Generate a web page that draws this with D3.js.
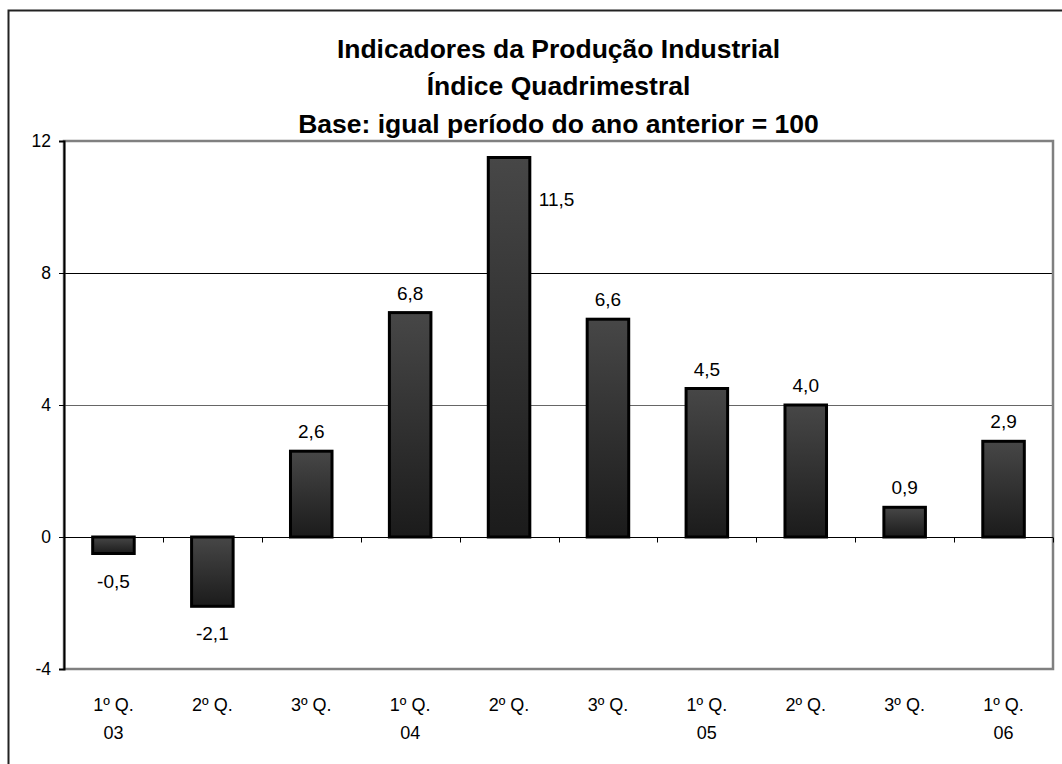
<!DOCTYPE html>
<html>
<head>
<meta charset="utf-8">
<title>Indicadores da Produção Industrial</title>
<style>
  body { margin: 0; background: #fff; }
  svg text { font-family: Arial, "Liberation Sans", sans-serif; fill: #000; }
</style>
</head>
<body>
<svg id="chart"></svg>
<script src="https://d3js.org/d3.v7.min.js"></script>
<script>
// data
const quarters = ['1º Q.', '2º Q.', '3º Q.', '1º Q.', '2º Q.', '3º Q.', '1º Q.', '2º Q.', '3º Q.', '1º Q.'];
const years = ['03', '', '', '04', '', '', '05', '', '', '06'];
const values = [-0.5, -2.1, 2.6, 6.8, 11.5, 6.6, 4.5, 4.0, 0.9, 2.9];
const yTicks = [-4, 0, 4, 8, 12];
const titleLines = [
  'Indicadores da Produção Industrial',
  'Índice Quadrimestral',
  'Base: igual período do ano anterior = 100'
];

const width = 1062, height = 764;
const margin = { top: 141, right: 9, bottom: 95, left: 64 };
const innerW = width - margin.left - margin.right;
const innerH = height - margin.top - margin.bottom;
const fontFamily = 'Arial, "Liberation Sans", sans-serif';

const svg = d3.select('#chart').attr('width', width).attr('height', height);

// outer frame (only top and left visible)
svg.append('rect')
  .attr('x', 8.5).attr('y', 10.5)
  .attr('width', 1200).attr('height', 1000)
  .attr('fill', 'none').attr('stroke', '#222').attr('stroke-width', 2);

const defs = svg.append('defs');
const grad = defs.append('linearGradient')
  .attr('id', 'barGrad').attr('x1', 0).attr('y1', 0).attr('x2', 0).attr('y2', 1);
grad.append('stop').attr('offset', '0%').attr('stop-color', '#474747');
grad.append('stop').attr('offset', '100%').attr('stop-color', '#1b1b1b');

// title
svg.append('g').selectAll('text')
  .data(titleLines)
  .join('text')
  .attr('x', margin.left + innerW / 2)
  .attr('y', (d, i) => 57.5 + i * 37.5)
  .attr('text-anchor', 'middle')
  .attr('font-size', 26.5)
  .attr('font-weight', 'bold')
  .text(d => d);

const g = svg.append('g').attr('transform', `translate(${margin.left},${margin.top})`);

const x = d3.scaleBand()
  .domain(d3.range(values.length))
  .range([0, innerW])
  .paddingInner(0.58).paddingOuter(0.29);

const y = d3.scaleLinear().domain([-4, 12]).range([innerH, 0]);

// gridlines
g.append('g').selectAll('line')
  .data([4, 8])
  .join('line')
  .attr('x1', 0).attr('x2', innerW)
  .attr('y1', d => Math.round(y(d)) + 0.5).attr('y2', d => Math.round(y(d)) + 0.5)
  .attr('stroke', d => d === 8 ? '#000' : '#666')
  .attr('stroke-width', 1);

// plot border (gray)
g.append('rect')
  .attr('x', 0).attr('y', 0)
  .attr('width', innerW).attr('height', innerH)
  .attr('fill', 'none').attr('stroke', '#808080').attr('stroke-width', 2.5);

// y axis
const yAxis = g.append('g')
  .call(d3.axisLeft(y).tickValues(yTicks).tickSize(5).tickPadding(8).tickFormat(d => String(d)));
yAxis.select('.domain').attr('stroke', '#000').attr('stroke-width', 2);
yAxis.selectAll('.tick line').attr('stroke', '#000');
yAxis.selectAll('text').attr('font-size', 17.5).attr('font-family', fontFamily);

// zero line with category ticks
const zeroY = Math.round(y(0)) + 0.5;
g.append('line')
  .attr('x1', 0).attr('x2', innerW)
  .attr('y1', zeroY).attr('y2', zeroY)
  .attr('stroke', '#000').attr('stroke-width', 1);
const step = x.step();
g.append('g').selectAll('line')
  .data(d3.range(1, values.length + 1))
  .join('line')
  .attr('x1', d => Math.round(d * step) + 0.5).attr('x2', d => Math.round(d * step) + 0.5)
  .attr('y1', zeroY).attr('y2', zeroY + 5)
  .attr('stroke', '#000');

// bars
g.append('g').selectAll('rect')
  .data(values)
  .join('rect')
  .attr('x', (d, i) => x(i))
  .attr('width', x.bandwidth())
  .attr('y', d => y(Math.max(0, d)))
  .attr('height', d => Math.abs(y(d) - y(0)))
  .attr('fill', 'url(#barGrad)')
  .attr('stroke', '#000').attr('stroke-width', 3);

// value labels (comma decimal, plain hyphen for negatives)
const fmt = v => v.toFixed(1).replace('.', ',');
g.append('g').selectAll('text')
  .data(values)
  .join('text')
  .attr('font-size', 19)
  .attr('text-anchor', d => y(d) < 40 ? 'start' : 'middle')
  .attr('x', (d, i) => y(d) < 40 ? x(i) + x.bandwidth() + 9 : x(i) + x.bandwidth() / 2)
  .attr('y', d => y(d) < 40 ? y(d) + 48 : (d >= 0 ? y(d) - 13 : y(d) + 34))
  .text(fmt);

// category labels
const cat = g.append('g').attr('transform', `translate(0,${innerH})`);
cat.selectAll('text.q')
  .data(quarters)
  .join('text')
  .attr('class', 'q')
  .attr('x', (d, i) => x(i) + x.bandwidth() / 2)
  .attr('y', 42)
  .attr('text-anchor', 'middle')
  .attr('font-size', 18)
  .text(d => d);
cat.selectAll('text.yr')
  .data(years)
  .join('text')
  .attr('class', 'yr')
  .attr('x', (d, i) => x(i) + x.bandwidth() / 2)
  .attr('y', 70)
  .attr('text-anchor', 'middle')
  .attr('font-size', 18)
  .text(d => d);
</script>
</body>
</html>
